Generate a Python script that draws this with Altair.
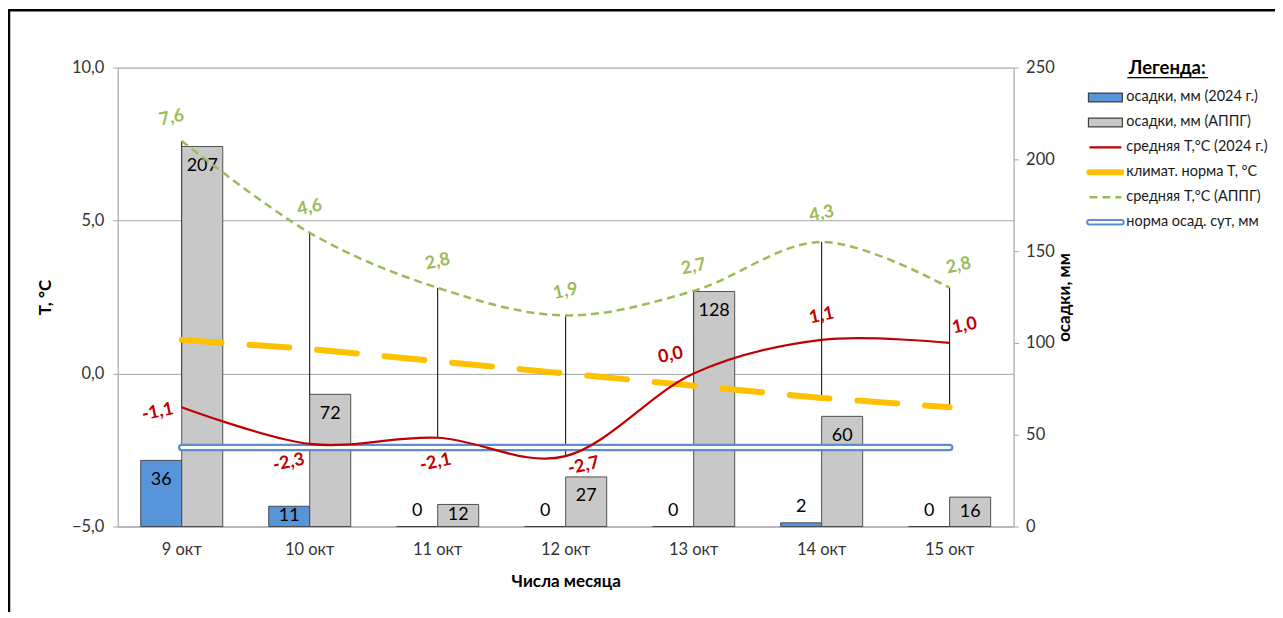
import math
import altair as alt
import pandas as pd

# ---------------- data ----------------
days = ["9 окт", "10 окт", "11 окт", "12 окт", "13 окт", "14 окт", "15 окт"]
precip_2024 = [36, 11, 0, 0, 0, 2, 0]
precip_appg = [207, 72, 12, 27, 128, 60, 16]
temp_2024 = [-1.1, -2.3, -2.1, -2.7, 0.0, 1.1, 1.0]
temp_norm = [1.1, 0.8, 0.4, 0.0, -0.4, -0.8, -1.1]
temp_appg = [7.6, 4.6, 2.8, 1.9, 2.7, 4.3, 2.8]
precip_norm = [43, 43, 43, 43, 43, 43, 43]
legend_labels = [
    "осадки, мм (2024 г.)",
    "осадки, мм (АППГ)",
    "средняя Т,°С (2024 г.)",
    "климат. норма Т, °С",
    "средняя Т,°С (АППГ)",
    "норма осад. сут, мм",
]

# ---------------- styles ----------------
FONT = "Lato"
BLUE = "#5894DA"
GREY = "#C8C8C8"
RED = "#C00000"
YELLOW = "#FFC000"
GREEN = "#9BBB59"
NORM_BLUE = "#5A8DD6"
AX = "#A6A6A6"
TXT = "#333333"
ANGLE = 348

# label screen offsets (px) for point labels
green_off = [(-10, -23), (0, -25), (0, -26), (0, -24), (0, -24), (0, -28), (9, -22)]
red_off = [(-24, 5), (-21, 19), (-2, 25), (18, 10), (-23, -18), (0, -24), (15, -17)]


def rot(ox, oy, a=ANGLE):
    r = math.radians(a)
    return ox * math.cos(r) + oy * math.sin(r), -ox * math.sin(r) + oy * math.cos(r)


def fmt(v):
    return f"{v:.1f}".replace(".", ",")


df = pd.DataFrame({
    "day": days, "idx": list(range(7)),
    "t24": temp_2024, "tnorm": temp_norm, "tappg": temp_appg, "pnorm": precip_norm,
})
df["hi"] = df[["t24", "tnorm", "tappg"]].max(axis=1)
df["lo"] = df[["t24", "tnorm", "tappg"]].min(axis=1)
df["t24_lbl"] = [fmt(v) for v in temp_2024]
df["tappg_lbl"] = [fmt(v) for v in temp_appg]

bars = pd.DataFrame({
    "day": days * 2,
    "series": ["a"] * 7 + ["b"] * 7,
    "value": precip_2024 + precip_appg,
})

leg = pd.DataFrame({"i": list(range(6)), "label": legend_labels})
one = pd.DataFrame({"a": [0]})

TS = alt.Scale(domain=[-5, 10], nice=False, zero=False)
PS = alt.Scale(domain=[0, 250], nice=False, zero=True)
LS = alt.Scale(domain=[0, 5], range=[30, 155])

X = alt.X(
    "day:N", sort=days,
    scale=alt.Scale(type="band", domain=days, paddingInner=0, paddingOuter=0),
    axis=alt.Axis(title="Числа месяца", labelAngle=0, ticks=False, domainColor=AX,
                  labelPadding=15, titlePadding=16, labelFontSize=16.5, labelColor=TXT,
                  titleFontSize=17, titleFontWeight="bold", titleColor="#000000"),
)
XO = alt.XOffset("series:N", scale=alt.Scale(domain=["a", "b"], paddingInner=0, paddingOuter=0.56))

T_axis = alt.Axis(
    orient="left", values=[-5, 0, 5, 10],
    labelExpr="replace(format(datum.value, '.1f'), '.', ',')",
    grid=True, gridColor=AX, domainColor=AX, tickColor=AX, tickSize=5,
    labelFontSize=16.5, labelColor=TXT, labelPadding=9,
    title="Т, °С", titleFontSize=17, titleFontWeight="bold", titleColor="#000000",
    titlePadding=17,
)
P_axis = alt.Axis(
    orient="right", values=[0, 50, 100, 150, 200, 250],
    grid=False, domainColor=AX, tickColor=AX, tickSize=5,
    labelFontSize=16.5, labelColor=TXT, labelPadding=7,
    title="осадки, мм", titleAngle=270, titleFontSize=17, titleFontWeight="bold",
    titleColor="#000000", titlePadding=19,
)

frame = alt.Chart(one).mark_rect(fill="white", fillOpacity=0, stroke="#000000", strokeWidth=2.5).encode(
    x=alt.value(-109), x2=alt.value(1180), y=alt.value(-57.5), y2=alt.value(640)
)

hilo = alt.Chart(df).mark_rule(color="#000000", strokeWidth=1).encode(
    x=X, y=alt.Y("hi:Q", scale=TS, axis=T_axis), y2="lo:Q"
)

bar = alt.Chart(bars).mark_bar(stroke="#404040", strokeWidth=0.9).encode(
    x=X, xOffset=XO,
    y=alt.Y("value:Q", scale=PS, axis=P_axis),
    color=alt.Color("series:N", scale=alt.Scale(domain=["a", "b"], range=[BLUE, GREY]), legend=None),
)

bar_lbl = alt.Chart(bars).transform_calculate(
    ly="datum.value < 5 ? datum.value + 8.7 : max(datum.value - 10.5, datum.value / 2)"
).mark_text(font=FONT, fontSize=18, color="#000000", baseline="middle").encode(
    x=X, xOffset=XO, y=alt.Y("ly:Q", scale=PS, axis=None), text="value:Q"
)

pnorm_out = alt.Chart(df).mark_line(color=NORM_BLUE, strokeWidth=7.5, strokeCap="round").encode(
    x=X, y=alt.Y("pnorm:Q", scale=PS, axis=None)
)
pnorm_in = alt.Chart(df).mark_line(color="#FFFFFF", strokeWidth=3, strokeCap="round").encode(
    x=X, y=alt.Y("pnorm:Q", scale=PS, axis=None)
)

yellow = alt.Chart(df).mark_line(color=YELLOW, strokeWidth=6, strokeDash=[40, 28], strokeCap="round").encode(
    x=X, y=alt.Y("tnorm:Q", scale=TS, axis=None)
)
green = alt.Chart(df).mark_line(color=GREEN, strokeWidth=2.5, strokeDash=[8, 5], interpolate="cardinal").encode(
    x=X, y=alt.Y("tappg:Q", scale=TS, axis=None)
)
red = alt.Chart(df).mark_line(color=RED, strokeWidth=2.2, interpolate="cardinal").encode(
    x=X, y=alt.Y("t24:Q", scale=TS, axis=None)
)

labels = []
for i, (ox, oy) in enumerate(green_off):
    dx, dy = rot(ox, oy)
    labels.append(
        alt.Chart(df).transform_filter(f"datum.idx == {i}").mark_text(
            font=FONT, fontSize=18, fontWeight="bold", color=GREEN, angle=ANGLE,
            baseline="middle", dx=dx, dy=dy,
        ).encode(x=X, y=alt.Y("tappg:Q", scale=TS, axis=None), text="tappg_lbl:N")
    )
for i, (ox, oy) in enumerate(red_off):
    dx, dy = rot(ox, oy)
    labels.append(
        alt.Chart(df).transform_filter(f"datum.idx == {i}").mark_text(
            font=FONT, fontSize=18, fontWeight="bold", color=RED, angle=ANGLE,
            baseline="middle", dx=dx, dy=dy,
        ).encode(x=X, y=alt.Y("t24:Q", scale=TS, axis=None), text="t24_lbl:N")
    )

# ---------------- legend ----------------
LY = alt.Y("i:Q", scale=LS, axis=None)
leg_title = alt.Chart(one).mark_text(
    text="Легенда:", font=FONT, fontSize=18.5, fontWeight="bold", color="#000000", baseline="middle"
).encode(x=alt.value(1052), y=alt.value(0))
leg_under = alt.Chart(one).mark_rule(color="#000000", strokeWidth=1.3).encode(
    x=alt.value(1012), x2=alt.value(1093), y=alt.value(10)
)
leg_text = alt.Chart(leg).mark_text(
    align="left", baseline="middle", font=FONT, fontSize=14.5, color="#1a1a1a"
).encode(x=alt.value(1011), y=LY, text="label:N")

RECT = "M-1,-0.26L1,-0.26L1,0.26L-1,0.26Z"
leg_sw = []
for i, col in [(0, BLUE), (1, GREY)]:
    leg_sw.append(
        alt.Chart(leg).transform_filter(f"datum.i == {i}").mark_point(
            shape=RECT, size=1156, filled=True, fill=col, stroke="#404040", strokeWidth=1.2, opacity=1
        ).encode(x=alt.value(990), y=LY)
    )
line_styles = [
    (2, dict(color=RED, strokeWidth=2.2)),
    (3, dict(color=YELLOW, strokeWidth=6, strokeCap="round")),
    (4, dict(color=GREEN, strokeWidth=2.5, strokeDash=[8, 5])),
    (5, dict(color=NORM_BLUE, strokeWidth=6.5, strokeCap="round")),
    (5, dict(color="#FFFFFF", strokeWidth=2.5, strokeCap="round")),
]
for i, st in line_styles:
    leg_sw.append(
        alt.Chart(leg).transform_filter(f"datum.i == {i}").mark_rule(**st).encode(
            x=alt.value(974), x2=alt.value(1006), y=LY
        )
    )

chart = alt.layer(
    frame, hilo, bar, bar_lbl, pnorm_out, pnorm_in, yellow, green, red, *labels,
    leg_title, leg_under, leg_text, *leg_sw,
).resolve_scale(y="independent").properties(
    width=898, height=460,
    autosize=alt.AutoSizeParams(type="none"),
    padding={"left": 110, "top": 59, "right": 262, "bottom": 85},
).configure_view(stroke=None).configure(font=FONT).configure_axis(labelFont=FONT, titleFont=FONT)

chart.save("out.html", embed_options={"renderer": "svg", "actions": False})
